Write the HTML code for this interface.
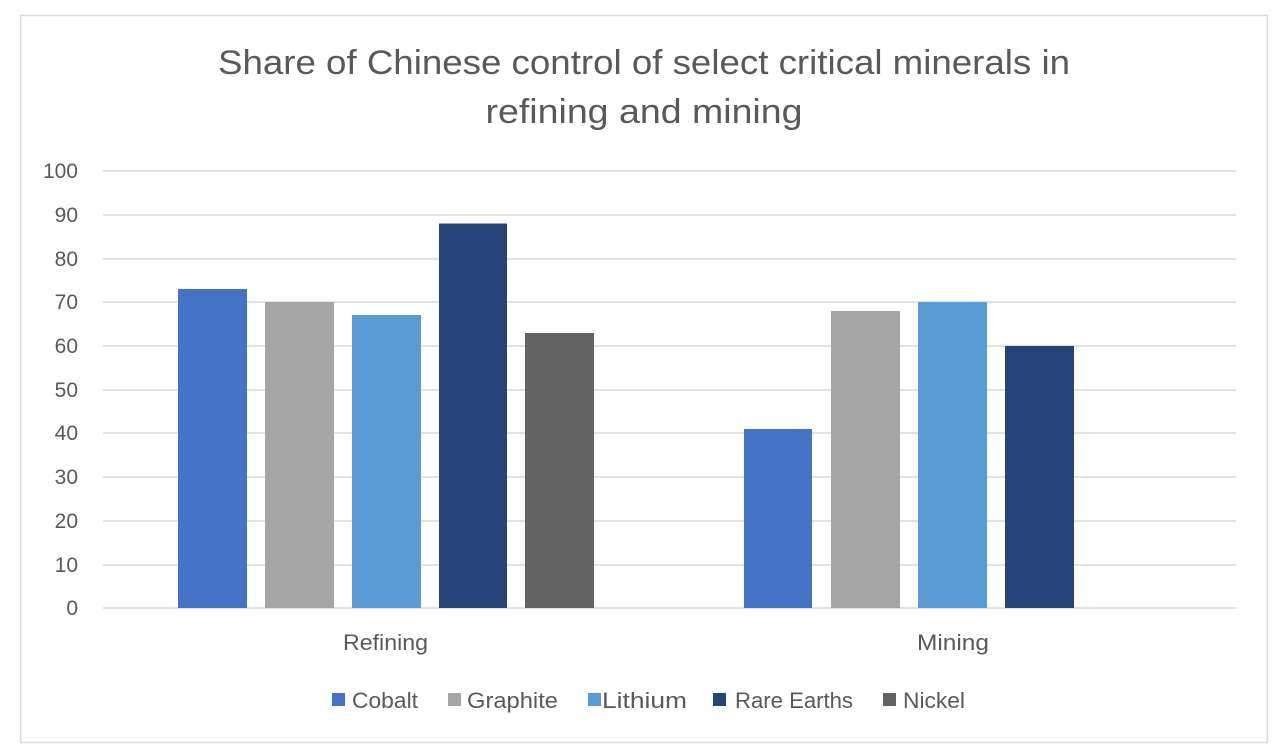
<!DOCTYPE html>
<html><head><meta charset="utf-8"><style>
html,body{margin:0;padding:0;background:#fff;}
svg{display:block;font-family:"Liberation Sans",sans-serif;}
</style></head><body>
<svg width="1280" height="751" viewBox="0 0 1280 751">
<rect x="0" y="0" width="1280" height="751" fill="#fff"/>
<rect x="20.5" y="15.5" width="1247" height="727" fill="#fff" stroke="#d9d9d9" stroke-width="1.5"/>
<g fill="#595959" font-size="34" text-anchor="middle">
<text x="644" y="74" textLength="852" lengthAdjust="spacingAndGlyphs">Share of Chinese control of select critical minerals in</text>
<text x="644" y="123" textLength="317" lengthAdjust="spacingAndGlyphs">refining and mining</text>
</g>
<g stroke="#d9d9d9" stroke-width="1.5">
<line x1="103" x2="1236" y1="171" y2="171"/>
<line x1="103" x2="1236" y1="215" y2="215"/>
<line x1="103" x2="1236" y1="259" y2="259"/>
<line x1="103" x2="1236" y1="302" y2="302"/>
<line x1="103" x2="1236" y1="346" y2="346"/>
<line x1="103" x2="1236" y1="390" y2="390"/>
<line x1="103" x2="1236" y1="433" y2="433"/>
<line x1="103" x2="1236" y1="477" y2="477"/>
<line x1="103" x2="1236" y1="521" y2="521"/>
<line x1="103" x2="1236" y1="565" y2="565"/>
<line x1="103" x2="1236" y1="608" y2="608"/>
</g>
<g fill="#595959" font-size="21" text-anchor="end">
<text x="78" y="178">100</text><text x="78" y="222">90</text><text x="78" y="266">80</text>
<text x="78" y="309">70</text><text x="78" y="353">60</text><text x="78" y="397">50</text>
<text x="78" y="440">40</text><text x="78" y="484">30</text><text x="78" y="528">20</text>
<text x="78" y="572">10</text><text x="78" y="615">0</text>
</g>
<rect x="178" y="289" width="69" height="319" fill="#4472c4"/>
<rect x="265" y="302" width="69" height="306" fill="#a5a5a5"/>
<rect x="352" y="315" width="69" height="293" fill="#5b9bd5"/>
<rect x="439" y="223.5" width="68" height="384.5" fill="#264478"/>
<rect x="525" y="333" width="69" height="275" fill="#636363"/>
<rect x="744" y="429" width="68" height="179" fill="#4472c4"/>
<rect x="831" y="311" width="69" height="297" fill="#a5a5a5"/>
<rect x="918" y="302" width="69" height="306" fill="#5b9bd5"/>
<rect x="1005" y="346" width="69" height="262" fill="#264478"/>
<g fill="#595959" font-size="22">
<text x="343" y="650" textLength="85" lengthAdjust="spacingAndGlyphs">Refining</text>
<text x="917" y="650" textLength="72" lengthAdjust="spacingAndGlyphs">Mining</text>
</g>
<g font-size="22" fill="#595959">
<rect x="332" y="693" width="13" height="13" fill="#4472c4"/><text x="352" y="708" textLength="66" lengthAdjust="spacingAndGlyphs">Cobalt</text>
<rect x="448" y="693" width="13" height="13" fill="#a5a5a5"/><text x="467" y="708" textLength="91" lengthAdjust="spacingAndGlyphs">Graphite</text>
<rect x="588" y="693" width="13" height="13" fill="#5b9bd5"/><text x="602" y="708" textLength="85" lengthAdjust="spacingAndGlyphs">Lithium</text>
<rect x="713" y="693" width="13" height="13" fill="#264478"/><text x="735" y="708" textLength="118" lengthAdjust="spacingAndGlyphs">Rare Earths</text>
<rect x="883" y="693" width="13" height="13" fill="#636363"/><text x="903" y="708" textLength="62" lengthAdjust="spacingAndGlyphs">Nickel</text>
</g>
</svg>
</body></html>
